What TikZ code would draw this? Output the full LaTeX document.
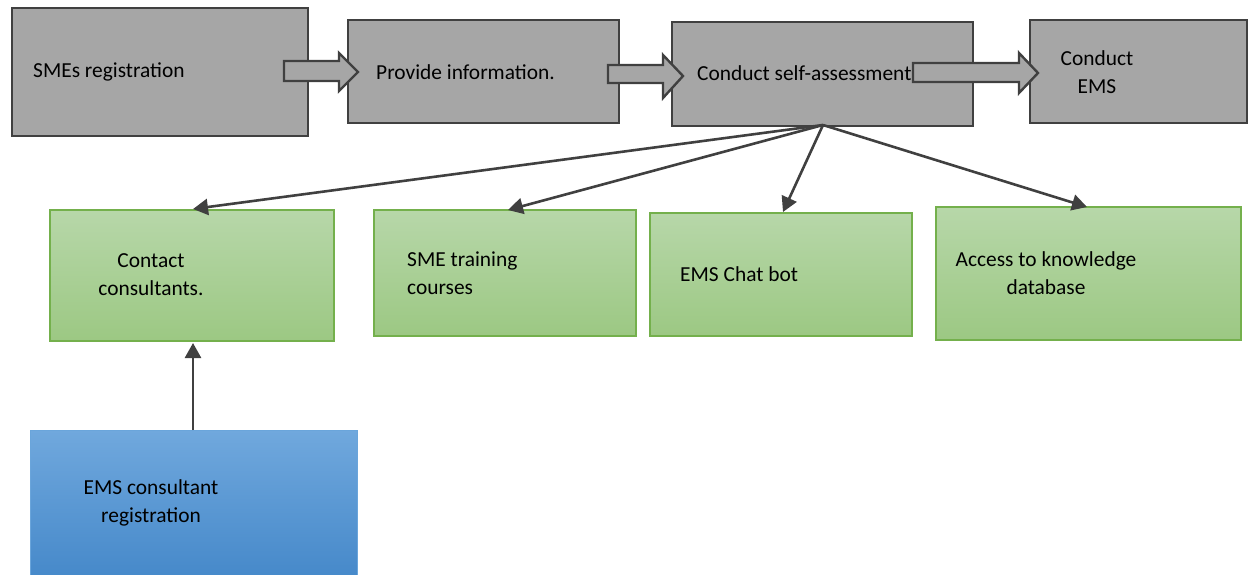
\documentclass[tikz,border=0pt]{standalone}
\usepackage{fontspec}
\setmainfont{Carlito}
\usetikzlibrary{arrows.meta}
\definecolor{gfill}{HTML}{A6A6A6}
\definecolor{gline}{HTML}{404040}
\definecolor{grtop}{HTML}{B7D7A9}
\definecolor{grbot}{HTML}{9CC883}
\definecolor{grline}{HTML}{74B04C}
\definecolor{bltop}{HTML}{70A8DD}
\definecolor{blbot}{HTML}{4286C8}
\definecolor{blline}{HTML}{6AA5DB}
\tikzset{
  graybox/.style={draw=gline, line width=2.4pt, fill=gfill, inner sep=0pt},
  greenbox/.style={draw=grline, line width=1.2pt, top color=grtop, bottom color=grbot, inner sep=0pt},
  bluebox/.style={draw=blline, line width=1.2pt, top color=bltop, bottom color=blbot, inner sep=0pt},
  lbl/.style={font=\fontsize{21.4}{28}\selectfont, text=black, inner sep=0pt, align=center},
  lbll/.style={font=\fontsize{21.4}{28}\selectfont, text=black, inner sep=0pt, align=left},
  blockarrow/.style={draw=gline, line width=2.4pt, fill=gfill, line join=miter},
  conn/.style={draw=gline, line width=2.6pt, -{Triangle[length=15pt,width=16pt]}}
}
\begin{document}
\begin{tikzpicture}[x=1pt,y=-1pt]
\useasboundingbox (0,0) rectangle (1249,575);
\clip (0,0) rectangle (1249,575);
% gray boxes
\node[graybox, minimum width=296pt, minimum height=128pt] (b1) at (160,72) {};
\node[graybox, minimum width=271pt, minimum height=103pt] (b2) at (483.5,71.5) {};
\node[graybox, minimum width=301pt, minimum height=104pt] (b3) at (822.5,74) {};
\node[graybox, minimum width=217pt, minimum height=103pt] (b4) at (1138.5,71.5) {};
% block arrows
\draw[blockarrow] (284,61) -- (339,61) -- (339,53) -- (358,72) -- (339,91) -- (339,81) -- (284,81) -- cycle;
\draw[blockarrow] (608,65) -- (663,65) -- (663,55) -- (683,76) -- (663,98) -- (663,83) -- (608,83) -- cycle;
\draw[blockarrow] (913,63) -- (1019,63) -- (1019,53) -- (1038,73) -- (1019,93) -- (1019,82) -- (913,82) -- cycle;
% gray texts
\node[lbll, anchor=west] (t1) at (33,72) {SMEs registration};
\node[lbll, anchor=west] (t2) at (376,72) {Provide information.};
\node[lbll, anchor=west] (t3) at (697,73) {Conduct self-assessment};
\node[lbl] (t4) at (1097,72) {Conduct\\EMS};
% green boxes
\node[greenbox, minimum width=284pt, minimum height=131pt] (g1) at (192,275.5) {};
\node[greenbox, minimum width=262pt, minimum height=126pt] (g2) at (505,273) {};
\node[greenbox, minimum width=262pt, minimum height=123pt] (g3) at (781,274.5) {};
\node[greenbox, minimum width=305pt, minimum height=133pt] (g4) at (1088.5,273.5) {};
\node[lbl] (u1) at (151,275) {Contact\\consultants.};
\node[lbll, anchor=west] (u2) at (407,273.5) {SME training\\courses};
\node[lbll, anchor=west] (u3) at (680,274) {EMS Chat bot};
\node[lbl] (u4) at (1046,273.5) {Access to knowledge\\database};
% blue box
\node[bluebox, minimum width=327pt, minimum height=160pt, anchor=north west] (bl) at (30,430) {};
\node[lbl] (v1) at (151,503) {EMS consultant\\registration};
% connectors
\coordinate (src) at (823,125);
\coordinate (e1) at (193,209);
\coordinate (e2) at (508,210);
\coordinate (e3) at (783,212);
\coordinate (e4) at (1087,207);
\coordinate (bs) at (193,430);
\coordinate (be) at (193,343);
\draw[conn] (src) -- (e1);
\draw[conn] (src) -- (e2);
\draw[conn] (src) -- (e3);
\draw[conn] (src) -- (e4);
\draw[conn] (bs) -- (be);
\end{tikzpicture}
\end{document}
